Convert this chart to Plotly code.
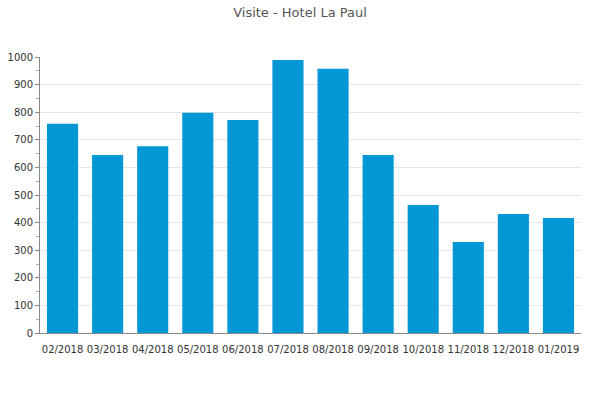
import plotly.graph_objects as go

months = ["02/2018", "03/2018", "04/2018", "05/2018", "06/2018", "07/2018",
          "08/2018", "09/2018", "10/2018", "11/2018", "12/2018", "01/2019"]
visits = [758, 645, 677, 798, 772, 989, 957, 645, 464, 330, 431, 417]
y_ticks = list(range(0, 1001, 100))

fig = go.Figure(go.Bar(x=months, y=visits, marker=dict(color="#0398d5", line=dict(width=0)),
                       width=0.69, hoverinfo="skip"))

fig.update_layout(
    width=600, height=400,
    margin=dict(l=40, r=19, t=57, b=67, autoexpand=False),
    paper_bgcolor="white", plot_bgcolor="white",
    font=dict(family="DejaVu Sans", size=10, color="#333333"),
    title=dict(text="Visite - Hotel La Paul", x=0.5, xanchor="center", y=1 - 12 / 400, yanchor="middle",
               font=dict(family="DejaVu Sans", size=13, color="#555555")),
    showlegend=False,
    bargap=0.31,
)
fig.update_xaxes(showline=True, linecolor="#888888", linewidth=1,
                 ticks="outside", ticklen=7, tickcolor="rgba(0,0,0,0)", showgrid=False,
                 automargin=False,
                 tickfont=dict(size=10, color="#333333"), tickangle=0)
fig.update_yaxes(range=[0, 1000], tickvals=y_ticks, showline=True, linecolor="#888888", linewidth=1,
                 automargin=False,
                 ticks="outside", ticklen=4, tickcolor="#888888",
                 minor=dict(dtick=50, ticks="outside", ticklen=3, tickcolor="#aaaaaa", showgrid=False),
                 showgrid=True, gridcolor="#e6e6e6", zeroline=False,
                 tickfont=dict(size=10, color="#333333"))

fig.write_html("out.html", config={"displayModeBar": False},
               post_script="document.body.style.margin='0';")
